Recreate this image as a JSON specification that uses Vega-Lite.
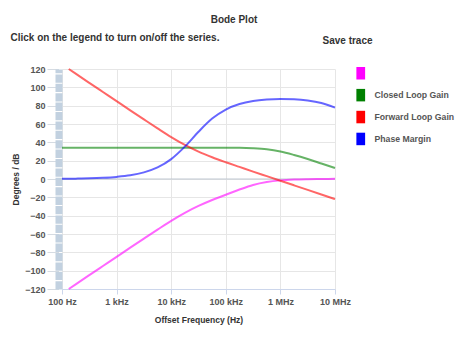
{
  "$schema": "https://vega.github.io/schema/vega-lite/v6.json",
  "width": 273,
  "height": 220,
  "autosize": {"type": "none"},
  "padding": {"left": 62, "top": 69, "right": 123, "bottom": 54},
  "background": "white",
  "title": {"text": "Bode Plot", "anchor": "middle", "frame": "group", "dx": 35.5, "fontSize": 10, "font": "Liberation Sans", "fontWeight": "bold", "color": "#333333", "offset": 7},
  "config": {"view": {"stroke": null}, "font": "Liberation Sans"},
  "data": {"values": [
    {"f": 133, "s": "Loop Error", "v": -120},
    {"f": 178, "s": "Loop Error", "v": -114.9},
    {"f": 316, "s": "Loop Error", "v": -104.9},
    {"f": 562, "s": "Loop Error", "v": -94.9},
    {"f": 1000, "s": "Loop Error", "v": -84.9},
    {"f": 1778, "s": "Loop Error", "v": -74.9},
    {"f": 3162, "s": "Loop Error", "v": -65.0},
    {"f": 5623, "s": "Loop Error", "v": -55.2},
    {"f": 10000, "s": "Loop Error", "v": -45.6},
    {"f": 17783, "s": "Loop Error", "v": -36.9},
    {"f": 31623, "s": "Loop Error", "v": -29.4},
    {"f": 56234, "s": "Loop Error", "v": -22.9},
    {"f": 100000, "s": "Loop Error", "v": -17.2},
    {"f": 177828, "s": "Loop Error", "v": -11.5},
    {"f": 316228, "s": "Loop Error", "v": -6.5},
    {"f": 562341, "s": "Loop Error", "v": -3.3},
    {"f": 1000000, "s": "Loop Error", "v": -1.5},
    {"f": 1778279, "s": "Loop Error", "v": -0.6},
    {"f": 3162278, "s": "Loop Error", "v": -0.2},
    {"f": 5623413, "s": "Loop Error", "v": 0.0},
    {"f": 10000000, "s": "Loop Error", "v": 0.2},
    {"f": 100, "s": "Closed Loop Gain", "v": 34.2},
    {"f": 316, "s": "Closed Loop Gain", "v": 34.2},
    {"f": 1000, "s": "Closed Loop Gain", "v": 34.2},
    {"f": 3162, "s": "Closed Loop Gain", "v": 34.2},
    {"f": 10000, "s": "Closed Loop Gain", "v": 34.2},
    {"f": 31623, "s": "Closed Loop Gain", "v": 34.2},
    {"f": 100000, "s": "Closed Loop Gain", "v": 34.1},
    {"f": 177828, "s": "Closed Loop Gain", "v": 34.0},
    {"f": 316228, "s": "Closed Loop Gain", "v": 33.5},
    {"f": 562341, "s": "Closed Loop Gain", "v": 32.4},
    {"f": 1000000, "s": "Closed Loop Gain", "v": 30.0},
    {"f": 1778279, "s": "Closed Loop Gain", "v": 26.2},
    {"f": 3162278, "s": "Closed Loop Gain", "v": 21.8},
    {"f": 5623413, "s": "Closed Loop Gain", "v": 16.9},
    {"f": 10000000, "s": "Closed Loop Gain", "v": 12.0},
    {"f": 133, "s": "Forward Loop Gain", "v": 120},
    {"f": 178, "s": "Forward Loop Gain", "v": 114.9},
    {"f": 316, "s": "Forward Loop Gain", "v": 104.9},
    {"f": 562, "s": "Forward Loop Gain", "v": 94.9},
    {"f": 1000, "s": "Forward Loop Gain", "v": 84.9},
    {"f": 1778, "s": "Forward Loop Gain", "v": 74.9},
    {"f": 3162, "s": "Forward Loop Gain", "v": 65.0},
    {"f": 5623, "s": "Forward Loop Gain", "v": 55.2},
    {"f": 10000, "s": "Forward Loop Gain", "v": 45.7},
    {"f": 17783, "s": "Forward Loop Gain", "v": 37.1},
    {"f": 31623, "s": "Forward Loop Gain", "v": 29.8},
    {"f": 56234, "s": "Forward Loop Gain", "v": 23.7},
    {"f": 100000, "s": "Forward Loop Gain", "v": 18.3},
    {"f": 177828, "s": "Forward Loop Gain", "v": 13.2},
    {"f": 316228, "s": "Forward Loop Gain", "v": 8.1},
    {"f": 562341, "s": "Forward Loop Gain", "v": 3.1},
    {"f": 1000000, "s": "Forward Loop Gain", "v": -1.9},
    {"f": 1778279, "s": "Forward Loop Gain", "v": -6.9},
    {"f": 3162278, "s": "Forward Loop Gain", "v": -11.9},
    {"f": 5623413, "s": "Forward Loop Gain", "v": -16.9},
    {"f": 10000000, "s": "Forward Loop Gain", "v": -21.9},
    {"f": 100, "s": "Phase Margin", "v": 0.2},
    {"f": 178, "s": "Phase Margin", "v": 0.4},
    {"f": 316, "s": "Phase Margin", "v": 0.7},
    {"f": 562, "s": "Phase Margin", "v": 1.3},
    {"f": 1000, "s": "Phase Margin", "v": 2.3},
    {"f": 1778, "s": "Phase Margin", "v": 4.0},
    {"f": 3162, "s": "Phase Margin", "v": 7.2},
    {"f": 5623, "s": "Phase Margin", "v": 12.6},
    {"f": 10000, "s": "Phase Margin", "v": 21.7},
    {"f": 17783, "s": "Phase Margin", "v": 35.3},
    {"f": 31623, "s": "Phase Margin", "v": 51.5},
    {"f": 56234, "s": "Phase Margin", "v": 65.9},
    {"f": 100000, "s": "Phase Margin", "v": 75.8},
    {"f": 177828, "s": "Phase Margin", "v": 81.8},
    {"f": 316228, "s": "Phase Margin", "v": 85.1},
    {"f": 562341, "s": "Phase Margin", "v": 86.7},
    {"f": 1000000, "s": "Phase Margin", "v": 87.3},
    {"f": 1778279, "s": "Phase Margin", "v": 87.0},
    {"f": 3162278, "s": "Phase Margin", "v": 85.7},
    {"f": 5623413, "s": "Phase Margin", "v": 82.9},
    {"f": 10000000, "s": "Phase Margin", "v": 77.8}
  ]},
  "layer": [
    {
      "data": {"values": [{"z": 0}]},
      "mark": {"type": "rule", "color": "#bfc7d1", "strokeWidth": 1},
      "encoding": {
        "x": {"datum": 100, "type": "quantitative",
          "scale": {"type": "log", "domain": [100, 10000000]},
          "axis": {"orient": "top", "labels": false, "ticks": false, "domain": false, "grid": false,
            "title": "Click on the legend to turn on/off the series.",
            "titleX": -52, "titleY": -32, "titleAlign": "left", "titleBaseline": "middle", "titleAngle": 0,
            "titleFont": "Liberation Sans", "titleFontSize": 10, "titleFontWeight": "bold", "titleColor": "#333333"}},
        "x2": {"datum": 10000000},
        "y": {"datum": 0, "type": "quantitative",
          "scale": {"domain": [-120, 120], "nice": false, "zero": false},
          "axis": {"orient": "right", "labels": false, "ticks": false, "domain": false, "grid": false,
            "title": "Save trace",
            "titleX": -13, "titleY": -29, "titleAlign": "left", "titleBaseline": "middle", "titleAngle": 0,
            "titleFont": "Liberation Sans", "titleFontSize": 10, "titleFontWeight": "bold", "titleColor": "#333333"}}
      }
    },
    {
      "mark": {"type": "line", "strokeWidth": 2, "opacity": 0.6, "interpolate": "monotone"},
      "encoding": {
        "x": {"field": "f", "type": "quantitative",
          "scale": {"type": "log", "domain": [100, 10000000]},
          "axis": {"orient": "bottom", "values": [100, 1000, 10000, 100000, 1000000, 10000000],
            "labelExpr": "datum.value == 100 ? '100 Hz' : datum.value == 1000 ? '1 kHz' : datum.value == 10000 ? '10 kHz' : datum.value == 100000 ? '100 kHz' : datum.value == 1000000 ? '1 MHz' : '10 MHz'",
            "title": "Offset Frequency (Hz)",
            "grid": true, "gridColor": "#e6e6e6", "domainColor": "#ccd6eb", "tickColor": "#ccd6eb", "tickSize": 5,
            "labelFont": "Liberation Sans", "labelFontWeight": "bold", "labelFontSize": 9, "labelColor": "#555555",
            "labelPadding": 3, "labelFlush": false, "labelOverlap": false,
            "titleFont": "Liberation Sans", "titleFontSize": 8.5, "titleFontWeight": "bold", "titleColor": "#333333",
            "titleX": 136.5, "titleY": 30, "titleBaseline": "middle", "titleAlign": "center"}},
        "y": {"field": "v", "type": "quantitative",
          "scale": {"domain": [-120, 120], "nice": false, "zero": false},
          "axis": {"orient": "left", "offset": 3.5,
            "values": [-120, -100, -80, -60, -40, -20, 0, 20, 40, 60, 80, 100, 120],
            "title": "Degrees / dB",
            "grid": true, "gridColor": "#e6e6e6",
            "domainColor": "#c2d1e0", "domainWidth": 7, "domainDash": [8.3, 1.1],
            "tickColor": "#d5dbe2", "tickSize": 11.5,
            "labelFont": "Liberation Sans", "labelFontWeight": "bold", "labelFontSize": 9, "labelColor": "#555555",
            "labelPadding": 2,
            "titleFont": "Liberation Sans", "titleFontSize": 8.5, "titleFontWeight": "bold", "titleColor": "#333333",
            "titleX": -43.5, "titleY": 110, "titleAngle": -90, "titleBaseline": "middle", "titleAlign": "center"}},
        "color": {"field": "s", "type": "nominal",
          "scale": {"domain": ["Loop Error", "Closed Loop Gain", "Forward Loop Gain", "Phase Margin"],
                    "range": ["#ff00ff", "#008000", "#ff0000", "#0000ff"]},
          "legend": {"orient": "none", "legendX": 292.25, "legendY": -2.25, "title": null,
            "symbolType": "M-0.7,-1H0.7V1H-0.7Z", "symbolSize": 156, "symbolStrokeWidth": 0, "symbolOpacity": 1,
            "labelFont": "Liberation Sans", "labelFontSize": 8.7, "labelFontWeight": "bold", "labelColor": "#555555",
            "labelOffset": 7.25, "rowPadding": 8.9, "padding": 0,
            "labelExpr": "datum.label == 'Loop Error' ? '' : datum.label",
            "encode": {"symbols": {"update": {"fill": {"field": "value", "scale": "color"}, "stroke": {"value": "transparent"}, "opacity": {"value": 1}}}}}}
      }
    }
  ],
  "resolve": {"axis": {"x": "independent", "y": "independent"}}
}
